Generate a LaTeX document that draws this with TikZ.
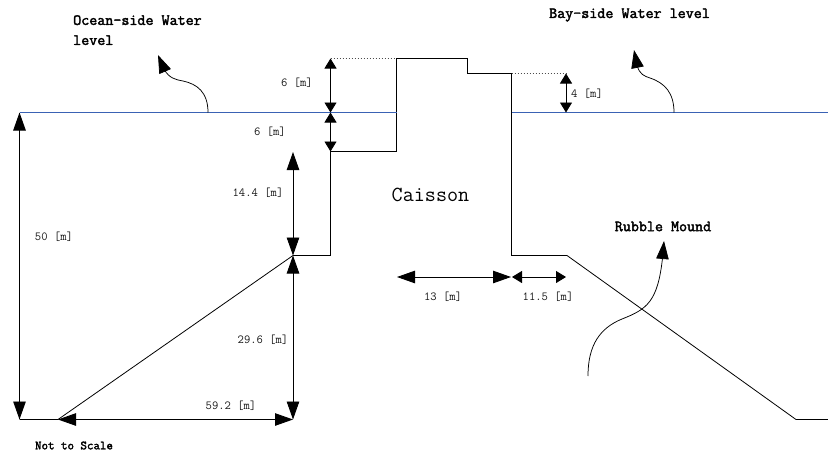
\documentclass[tikz,border=0pt]{standalone}
\usepackage[dvipsnames]{xcolor}
\usepackage{fontspec}
\newfontfamily\heavytt[FakeBold=2.2]{Latin Modern Mono}
\usetikzlibrary{calc,arrows.meta,bending}
\definecolor{waterblue}{HTML}{3A62B4}
\tikzset{
  wall/.style={line width=0.8pt,black},
  water/.style={line width=0.85pt,waterblue},
  dimbig/.style={line width=0.9pt,black,{Triangle[length=18pt,width=12.5pt]}-{Triangle[length=18pt,width=12.5pt]}},
  dimsmall/.style={line width=0.9pt,black,{Triangle[length=10pt,width=12pt]}-{Triangle[length=10pt,width=12pt]}},
  pointer/.style={line width=0.75pt,black,-{Triangle[length=18pt,width=12.5pt]}},
  dimtext/.style={font=\fontsize{12.3}{14}\selectfont\ttfamily,inner sep=0pt,text=black!90},
  titletext/.style={font=\fontsize{15.6}{20}\selectfont\heavytt,inner sep=0pt,align=left},
}
\begin{document}
\begin{tikzpicture}[x=1pt,y=-1pt]
                \useasboundingbox (0,0) rectangle (828,453);

                % 沉箱轮廓的角点
                \coordinate (toeL) at (58,419.5);
                \coordinate (bermL) at (293,255.5);
                \coordinate (wallL) at (330.5,255.5);
                \coordinate (stepL) at (330.5,151.5);
                \coordinate (stepM) at (396.5,151.5);
                \coordinate (topL) at (396.5,58.5);
                \coordinate (topR) at (467.5,58.5);
                \coordinate (stepR) at (467.5,73.5);
                \coordinate (wallR) at (511.5,73.5);
                \coordinate (baseR) at (511.5,255.5);
                \coordinate (bermR) at (567,255.5);
                \coordinate (toeR) at (796,419.5);
                \coordinate (endR) at (828,419.5);
                \coordinate (endL) at (19.5,419.5);

                % 水位线
                \coordinate (oceanL) at (19.5,112.5);
                \coordinate (oceanR) at (396.5,112.5);
                \coordinate (bayL) at (511.5,112.5);
                \coordinate (bayR) at (828,112.5);

                % 尺寸线的端点
                \coordinate (topDim) at (330.5,58.5);
                \coordinate (midDim) at (330.5,112.5);
                \coordinate (riseTop) at (293,152);
                \coordinate (cornerB) at (293,419.5);
                \coordinate (bayTop) at (566,73.5);
                \coordinate (bayLow) at (566,112.5);
                \coordinate (widthL) at (397,277);
                \coordinate (widthM) at (511,277);
                \coordinate (widthN) at (512,277);
                \coordinate (widthR) at (566,277);

                % 绘制轮廓
                \draw[wall] (endL) -- (toeL) -- (bermL) -- (wallL) -- (stepL) -- (stepM) -- (topL) -- (topR) -- (stepR) -- (wallR) -- (baseR) -- (bermR) -- (toeR) -- (endR);

                % 绘制水位线
                \draw[water] (oceanL) -- (oceanR);
                \draw[water] (bayL) -- (bayR);

                % 虚线
                \draw[wall,black!70,dash pattern=on 1.5pt off 1.5pt] (topDim) -- (topL);
                \draw[wall,black!70,dash pattern=on 1.5pt off 1.5pt] (wallR) -- (bayTop);

                % 绘制尺寸线
                \draw[dimbig] (oceanL) -- (endL);
                \draw[dimbig] (riseTop) -- (bermL);
                \draw[dimbig] (bermL) -- (cornerB);
                \draw[dimbig] (toeL) -- (cornerB);
                \draw[dimbig] (widthL) -- (widthM);
                \draw[dimsmall] (topDim) -- (midDim);
                \draw[dimsmall] (midDim) -- (stepL);
                \draw[dimsmall] (bayTop) -- (bayLow);
                \draw[dimsmall] (widthN) -- (widthR);

                % 标注尺寸
                \node[dimtext] (dimA) at (297,83) {6 [m]};
                \node[dimtext] (dimB) at (270,132) {6 [m]};
                \node[dimtext] (dimC) at (258,193) {14.4 [m]};
                \node[dimtext] (dimD) at (54,237) {50 [m]};
                \node[dimtext] (dimE) at (263,340) {29.6 [m]};
                \node[dimtext] (dimF) at (231,406) {59.2 [m]};
                \node[dimtext] (dimG) at (443,297) {13 [m]};
                \node[dimtext] (dimH) at (548,297) {11.5 [m]};
                \node[dimtext] (dimI) at (587,94) {4 [m]};

                % 文字标题
                \node[titletext,anchor=north west] (oceanText) at (73,15) {Ocean-side Water\\level};
                \node[titletext] (bayText) at (629.5,15) {Bay-side Water level};
                \node[titletext] (moundText) at (663,226.5) {Rubble Mound};
                \node[font=\fontsize{12.6}{14}\selectfont\heavytt,inner sep=0pt] (scaleText) at (74,445.5) {Not to Scale};
                \node[font=\fontsize{21.5}{24}\selectfont\ttfamily,inner sep=0pt] (caissonText) at (430.5,195) {Caisson};

                % 指示箭头
                \coordinate (oceanFoot) at (208,112.5);
                \coordinate (oceanTip) at (158,55);
                \coordinate (bayFoot) at (674,112.5);
                \coordinate (bayTip) at (634,50);
                \coordinate (moundFoot) at (588,376);
                \coordinate (moundTip) at (664,241);
                \draw[pointer] (oceanFoot) .. controls (208,92) and (197,84) .. (183,81) .. controls (172,79) and (165,77) .. (oceanTip);
                \draw[pointer] (bayFoot) .. controls (674,93) and (665,83) .. (650,78) .. controls (641,75) and (637,73) .. (bayTip);
                \draw[pointer] (moundFoot) .. controls (588,345) and (600,328) .. (622,319) .. controls (650,308) and (660,300) .. (moundTip);
            \end{tikzpicture}
\end{document}
